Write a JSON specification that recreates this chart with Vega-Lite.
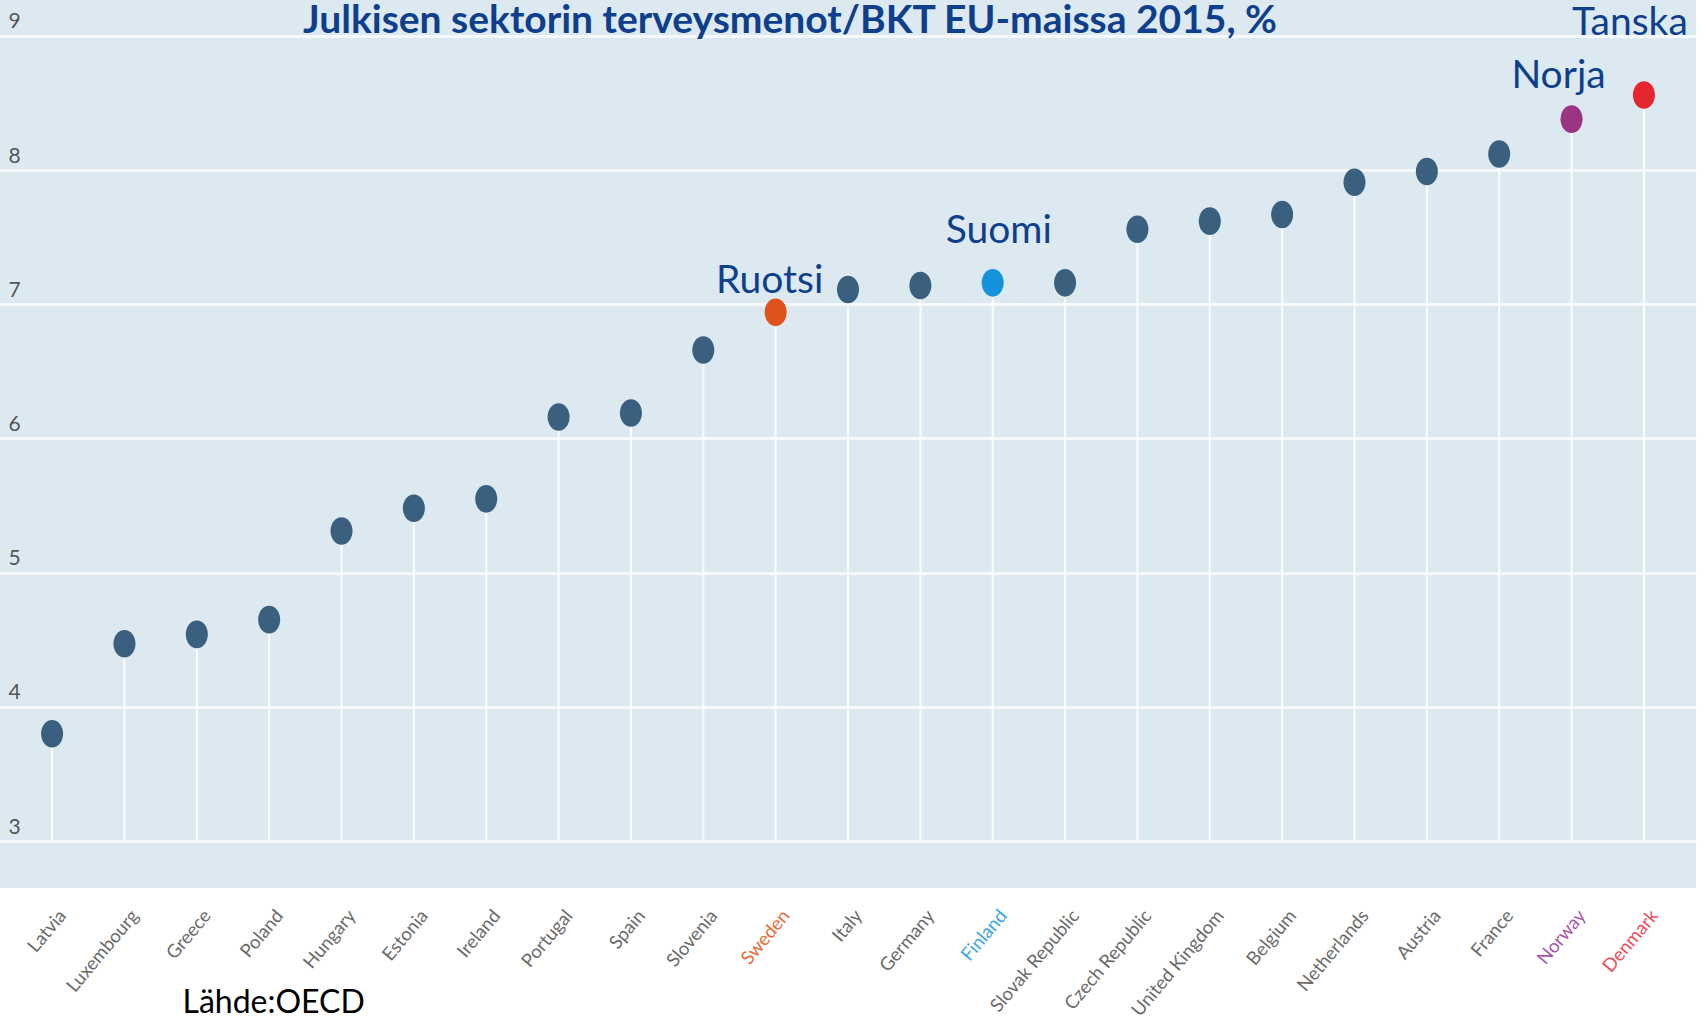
{
  "$schema": "https://vega.github.io/schema/vega-lite/v6.json",
  "width": 1696,
  "height": 888,
  "autosize": {"type": "none"},
  "padding": {"left": 0, "top": 0, "right": 8, "bottom": 129},
  "background": "#ffffff",
  "config": {
    "view": {"fill": "#dde9f1", "stroke": null},
    "font": "Lato"
  },
  "title": {
    "text": "Julkisen sektorin terveysmenot/BKT EU-maissa 2015, %",
    "anchor": "middle",
    "dx": -58,
    "offset": -72,
    "baseline": "alphabetic",
    "font": "Lato",
    "fontSize": 39,
    "fontWeight": "bold",
    "color": "#0d3f8c"
  },
  "data": {
    "values": [
      {"country": "Latvia", "value": 3.80},
      {"country": "Luxembourg", "value": 4.47},
      {"country": "Greece", "value": 4.54},
      {"country": "Poland", "value": 4.65},
      {"country": "Hungary", "value": 5.31},
      {"country": "Estonia", "value": 5.48},
      {"country": "Ireland", "value": 5.55},
      {"country": "Portugal", "value": 6.16},
      {"country": "Spain", "value": 6.19},
      {"country": "Slovenia", "value": 6.66},
      {"country": "Sweden", "value": 6.94, "note": "Ruotsi"},
      {"country": "Italy", "value": 7.11},
      {"country": "Germany", "value": 7.14},
      {"country": "Finland", "value": 7.16, "note": "Suomi"},
      {"country": "Slovak Republic", "value": 7.16},
      {"country": "Czech Republic", "value": 7.56},
      {"country": "United Kingdom", "value": 7.62},
      {"country": "Belgium", "value": 7.67},
      {"country": "Netherlands", "value": 7.91},
      {"country": "Austria", "value": 7.99},
      {"country": "France", "value": 8.12},
      {"country": "Norway", "value": 8.38, "note": "Norja"},
      {"country": "Denmark", "value": 8.56, "note": "Tanska"}
    ]
  },
  "encoding": {
    "x": {
      "field": "country",
      "type": "nominal",
      "sort": null,
      "scale": {"type": "point", "padding": 0.72},
      "axis": {
        "title": "Lähde:OECD",
        "titleX": 182,
        "titleY": 124,
        "titleAlign": "left",
        "titleAnchor": "start",
        "titleBaseline": "alphabetic",
        "titleFont": "Lato",
        "titleFontSize": 32,
        "titleFontWeight": "normal",
        "titleColor": "#000000",
        "domain": false,
        "ticks": false,
        "tickSize": 0,
        "grid": false,
        "labelAngle": -50,
        "labelAlign": "right",
        "labelBaseline": "middle",
        "labelPadding": 24,
        "labelOffset": 10,
        "labelFont": "Lato",
        "labelFontSize": 18.5,
        "labelColor": {
          "condition": [
            {"test": "datum.value === 'Sweden'", "value": "#e8693a"},
            {"test": "datum.value === 'Finland'", "value": "#3aa6e8"},
            {"test": "datum.value === 'Norway'", "value": "#a855a8"},
            {"test": "datum.value === 'Denmark'", "value": "#ef4a55"}
          ],
          "value": "#6a6a6a"
        }
      }
    },
    "y": {
      "field": "value",
      "type": "quantitative",
      "scale": {"domain": [2.65, 9.268], "nice": false, "zero": false},
      "axis": {
        "title": null,
        "values": [3, 4, 5, 6, 7, 8, 9],
        "domain": false,
        "ticks": false,
        "tickSize": 0,
        "labelAlign": "left",
        "labelBaseline": "alphabetic",
        "labelPadding": -8,
        "labelOffset": -8,
        "labelFont": "Lato",
        "labelFontSize": 21,
        "labelColor": "#555555",
        "grid": true,
        "gridColor": "#f6f9fb",
        "gridWidth": 3,
        "gridOpacity": 1
      }
    }
  },
  "layer": [
    {
      "mark": {"type": "rule", "color": "#fbfcfd", "strokeWidth": 2},
      "encoding": {"y2": {"datum": 3}}
    },
    {
      "mark": {
        "type": "point",
        "filled": true,
        "opacity": 1,
        "size": 760,
        "shape": "M0,-1 A0.8,1 0 1,1 0,1 A0.8,1 0 1,1 0,-1 Z"
      },
      "encoding": {
        "color": {
          "condition": [
            {"test": "datum.country === 'Sweden'", "value": "#e0521c"},
            {"test": "datum.country === 'Finland'", "value": "#1592dc"},
            {"test": "datum.country === 'Norway'", "value": "#9a3584"},
            {"test": "datum.country === 'Denmark'", "value": "#e5262f"}
          ],
          "value": "#3b5f7e"
        }
      }
    },
    {
      "transform": [{"filter": "datum.country === 'Sweden'"}],
      "mark": {"type": "text", "font": "Lato", "fontSize": 39, "color": "#0d3f8c", "align": "center", "baseline": "alphabetic", "dx": -6, "dy": -19},
      "encoding": {"text": {"field": "note"}}
    },
    {
      "transform": [{"filter": "datum.country === 'Finland'"}],
      "mark": {"type": "text", "font": "Lato", "fontSize": 39, "color": "#0d3f8c", "align": "center", "baseline": "alphabetic", "dx": 6, "dy": -40},
      "encoding": {"text": {"field": "note"}}
    },
    {
      "transform": [{"filter": "datum.country === 'Norway'"}],
      "mark": {"type": "text", "font": "Lato", "fontSize": 39, "color": "#0d3f8c", "align": "center", "baseline": "alphabetic", "dx": -13, "dy": -31},
      "encoding": {"text": {"field": "note"}}
    },
    {
      "transform": [{"filter": "datum.country === 'Denmark'"}],
      "mark": {"type": "text", "font": "Lato", "fontSize": 39, "color": "#0d3f8c", "align": "center", "baseline": "alphabetic", "dx": -14, "dy": -60},
      "encoding": {"text": {"field": "note"}}
    }
  ]
}
